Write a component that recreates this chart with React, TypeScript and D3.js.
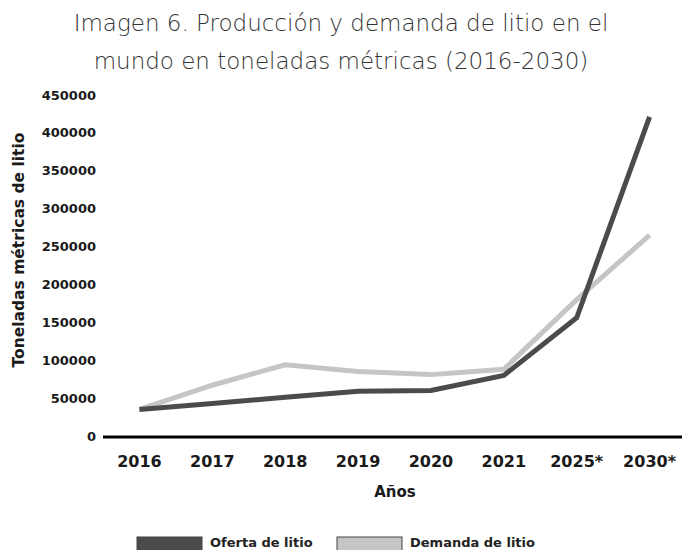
import React, { useEffect, useRef } from "react";
import * as d3 from "d3";

const years = ["2016", "2017", "2018", "2019", "2020", "2021", "2025*", "2030*"];
const oferta = [35000, 43000, 51000, 59000, 60000, 80000, 156000, 421000];
const demanda = [35000, 67000, 94000, 85000, 81000, 88000, 180000, 265000];
const yTicks = [0, 50000, 100000, 150000, 200000, 250000, 300000, 350000, 400000, 450000];

const DARK = "#4a4b4d";
const LIGHT = "#c4c5c4";
const TEXT = "#1a1a1a";

const LithiumChart = () => {
  const ref = useRef(null);

  useEffect(() => {
    document.body.style.margin = "0";
    const width = 682;
    const height = 550;

    const svg = d3.select(ref.current);
    svg.selectAll("*").remove();
    svg.attr("width", width).attr("height", height);

    // Title
    const title = svg
      .append("text")
      .attr("text-anchor", "middle")
      .attr("fill", "#333")
      .style("font-family", "'DejaVu Sans', sans-serif")
      .style("font-weight", 300)
      .style("font-size", "23px");
    title.append("tspan").attr("x", 341).attr("y", 31).text("Imagen 6. Producción y demanda de litio en el");
    title.append("tspan").attr("x", 341).attr("y", 69).text("mundo en toneladas métricas (2016-2030)");

    // Scales
    const x = d3.scalePoint().domain(years).range([103, 686]).padding(0.5);
    const y = d3.scaleLinear().domain([0, 450000]).range([436, 95]);

    // Y tick labels
    svg
      .append("g")
      .selectAll("text")
      .data(yTicks)
      .join("text")
      .attr("x", 96)
      .attr("y", (d) => y(d))
      .attr("dy", "0.35em")
      .attr("text-anchor", "end")
      .attr("fill", TEXT)
      .style("font-family", "'DejaVu Sans', sans-serif")
      .style("font-weight", "bold")
      .style("font-size", "13px")
      .text((d) => d);

    // X axis baseline
    svg
      .append("line")
      .attr("x1", 103)
      .attr("x2", 682)
      .attr("y1", y(0) + 1)
      .attr("y2", y(0) + 1)
      .attr("stroke", "#000")
      .attr("stroke-width", 3);

    // X labels
    svg
      .append("g")
      .selectAll("text")
      .data(years)
      .join("text")
      .attr("x", (d) => x(d))
      .attr("y", 467)
      .attr("text-anchor", "middle")
      .attr("fill", TEXT)
      .style("font-family", "'DejaVu Sans', sans-serif")
      .style("font-weight", "bold")
      .style("font-size", "16px")
      .text((d) => d);

    // Axis titles
    svg
      .append("text")
      .attr("x", 395)
      .attr("y", 497)
      .attr("text-anchor", "middle")
      .attr("fill", TEXT)
      .style("font-family", "'DejaVu Sans', sans-serif")
      .style("font-weight", "bold")
      .style("font-size", "15px")
      .text("Años");

    svg
      .append("text")
      .attr("transform", "translate(24,250) rotate(-90)")
      .attr("text-anchor", "middle")
      .attr("fill", TEXT)
      .style("font-family", "'DejaVu Sans', sans-serif")
      .style("font-weight", "bold")
      .style("font-size", "15.5px")
      .text("Toneladas métricas de litio");

    // Lines
    const line = d3
      .line()
      .x((d) => x(d[0]))
      .y((d) => y(d[1]));

    const series = [
      { values: demanda, color: LIGHT },
      { values: oferta, color: DARK },
    ];
    series.forEach((s) => {
      svg
        .append("path")
        .attr("d", line(years.map((yr, i) => [yr, s.values[i]])))
        .attr("fill", "none")
        .attr("stroke", s.color)
        .attr("stroke-width", 5)
        .attr("stroke-linejoin", "miter");
    });

    // Legend
    const legend = [
      { label: "Oferta de litio", color: DARK, x: 137 },
      { label: "Demanda de litio", color: LIGHT, x: 337 },
    ];
    const lg = svg.append("g").selectAll("g").data(legend).join("g");
    lg.append("rect")
      .attr("x", (d) => d.x)
      .attr("y", 537)
      .attr("width", 65)
      .attr("height", 16)
      .attr("fill", (d) => d.color)
      .attr("stroke", "#444")
      .attr("stroke-width", 1);
    lg.append("text")
      .attr("x", (d) => d.x + 73)
      .attr("y", 547)
      .attr("fill", "#222")
      .style("font-family", "'DejaVu Sans', sans-serif")
      .style("font-weight", "bold")
      .style("font-size", "13px")
      .text((d) => d.label);
  }, []);

  return <svg ref={ref} style={{ display: "block" }}></svg>;
};

export default function App() {
  return <LithiumChart />;
}
